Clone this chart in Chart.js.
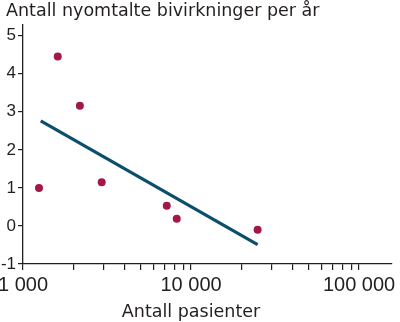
<!DOCTYPE html>
<html lang="no">
<head>
<meta charset="utf-8">
<script src="https://cdn.jsdelivr.net/npm/chart.js@4.4.1/dist/chart.umd.min.js"></script>
<style>
  html, body { margin: 0; padding: 0; background: #fff; }
  canvas { display: block; }
</style>
</head>
<body>
<canvas id="bivirkninger" width="400" height="322"></canvas>
<script>
// antall pasienter (log-skala) og nyomtalte bivirkninger per år
const pasienter = [1245, 1610, 2180, 2940, 7170, 8220, 24900];
const bivirkninger = [1.0, 4.45, 3.16, 1.15, 0.53, 0.19, -0.1];

// regresjonslinje, endepunkter
const trendPasienter = [1275, 24900];
const trendVerdier = [2.76, -0.49];

const xTicks = [1000, 2000, 3000, 4000, 5000, 6000, 7000, 8000, 9000,
                10000, 20000, 30000, 40000, 50000, 60000, 70000, 80000, 90000, 100000];
const xMajor = [1000, 10000, 100000];
const xMajorLabels = ["1 000", "10 000", "100 000"];
const yTicks = [-1, 0, 1, 2, 3, 4, 5];
const yTickLabels = ["-1", "0", "1", "2", "3", "4", "5"];

const mainTitle = "Antall nyomtalte bivirkninger per år";
const xTitle = "Antall pasienter";

const ink = "#231f20";
const titleFont = "17.5px 'DejaVu Sans', sans-serif";
const tickFont = { family: "'Liberation Sans', Arial, sans-serif", size: 20, weight: "normal", lineHeight: 1 };

// titlene tegnes selv: overskriften står helt til venstre,
// aksetittelen sentrert under 10 000
const titlesPlugin = {
    id: "titles",
    afterDraw(chart) {
        const { ctx, scales } = chart;
        ctx.save();
        ctx.font = titleFont;
        ctx.fillStyle = ink;
        ctx.textBaseline = "alphabetic";
        ctx.textAlign = "left";
        ctx.fillText(mainTitle, 6, 16);
        ctx.textAlign = "center";
        ctx.fillText(xTitle, scales.x.getPixelForValue(10000), 317);
        ctx.restore();
    },
};

new Chart(document.getElementById("bivirkninger"), {
    type: "scatter",
    data: {
        datasets: [
            {
                data: pasienter.map((x, i) => ({ x, y: bivirkninger[i] })),
                backgroundColor: "#a3174a",
                borderWidth: 0,
                pointRadius: 4,
            },
            {
                data: trendPasienter.map((x, i) => ({ x, y: trendVerdier[i] })),
                showLine: true,
                borderColor: "#0b4f6c",
                borderWidth: 3.2,
                pointRadius: 0,
                order: 1,
            },
        ],
    },
    plugins: [titlesPlugin],
    options: {
        responsive: false,
        animation: false,
        events: [],
        layout: { padding: { left: 0, right: 8, top: 25, bottom: 0 } },
        plugins: {
            legend: { display: false },
            tooltip: { enabled: false },
        },
        scales: {
            x: {
                type: "logarithmic",
                min: 1000,
                max: 157000,
                border: { color: ink, width: 1.3 },
                grid: { drawOnChartArea: false, drawTicks: true, tickLength: 6, color: ink, lineWidth: 1.2 },
                afterBuildTicks: (scale) => {
                    scale.ticks = xTicks.map((v) => ({ value: v, major: xMajor.includes(v) }));
                },
                afterFit: (scale) => {
                    scale.height = 58;
                    // "1 000" får gå ut over venstre kant av plottet
                    scale.paddingLeft = 0;
                    scale.paddingRight = 0;
                },
                ticks: {
                    autoSkip: false,
                    maxRotation: 0,
                    padding: 5,
                    font: tickFont,
                    color: ink,
                    callback: (v) => {
                        const i = xMajor.indexOf(v);
                        return i >= 0 ? xMajorLabels[i] : "";
                    },
                },
            },
            y: {
                min: -1,
                max: 5.28,
                border: { color: ink, width: 1.3 },
                grid: { drawOnChartArea: false, drawTicks: true, tickLength: 5, color: ink, lineWidth: 1.2 },
                afterBuildTicks: (scale) => {
                    scale.ticks = yTicks.map((v) => ({ value: v }));
                },
                afterFit: (scale) => {
                    scale.width = 23;
                    scale.paddingTop = 0;
                    scale.paddingBottom = 0;
                },
                ticks: {
                    padding: 2,
                    font: { ...tickFont, size: 17 },
                    color: ink,
                    callback: (v) => yTickLabels[yTicks.indexOf(v)],
                },
            },
        },
    },
});
</script>
</body>
</html>
